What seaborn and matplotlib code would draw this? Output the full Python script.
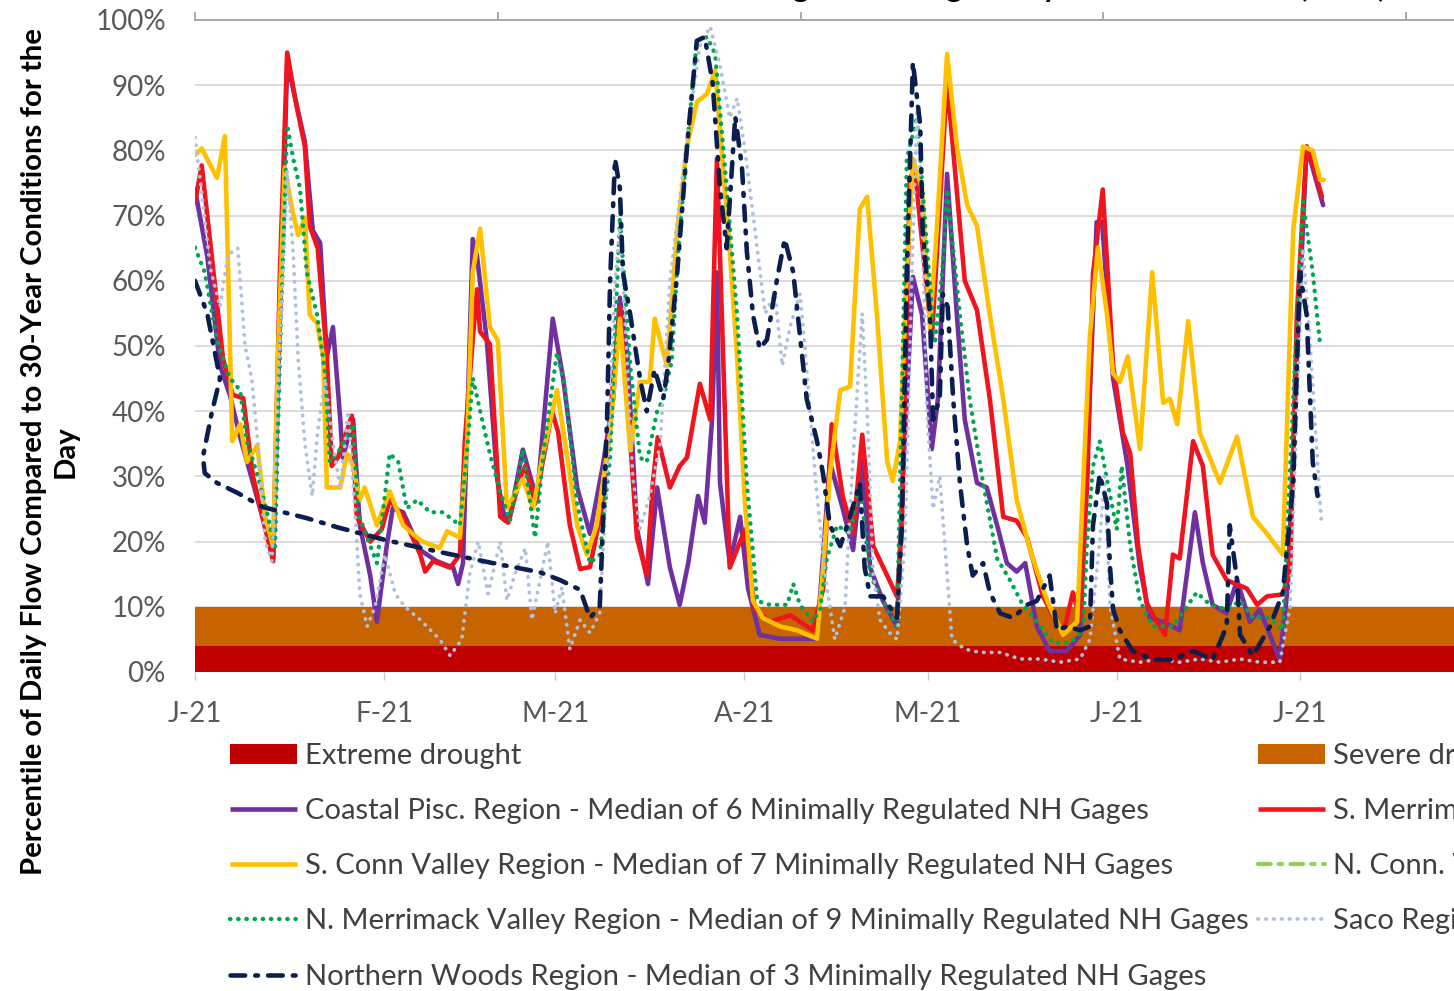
import numpy as np
import matplotlib
matplotlib.use('Agg')
import matplotlib.pyplot as plt
import seaborn as sns
from matplotlib.lines import Line2D
from matplotlib.patches import Patch

sns.set_theme(style='white')
plt.rcParams['font.family'] = ['Lato', 'DejaVu Sans']

# ---- data (day of 2021 counted from Jan 1, percentile %) ----
month_days = [0, 31, 59, 90, 120, 151, 181, 212]
month_labels = ['J-21', 'F-21', 'M-21', 'A-21', 'M-21', 'J-21', 'J-21', 'A-21']
top_ticks = [0, 49.6, 99.2, 148.8, 198.4]

band_days = [0, 230]
extreme_top = [4, 4]
severe_top = [10, 10]

coastal = [(0,74),(2,63.8),(4.1,47),(5.7,42.5),(7.4,36),(9.5,29),(11.8,21.2),(12.8,17.4),(15.1,93.5),(18,81.3),
           (19.3,67.7),(20.5,65.8),(21.6,48.4),(22.6,52.9),(23.8,38.7),(24.2,32.9),(25.9,38.7),(27,22.5),(28.7,14.8),
           (29.8,7.7),(31.4,19.3),(32.4,25.1),(34.1,24.5),(36.9,18.7),(39.6,17),(42.3,16),(43.1,13.5),(43.9,16.7),
           (45.5,66.4),(46.2,63.8),(47.8,50.9),(49.5,29.6),(50.8,23.2),(51.6,23.8),(53.7,34.1),(56,26.4),(58.6,54.2),
           (60.3,45.1),(62.6,28.3),(64.7,21.2),(66.8,31.6),(68.5,41.9),(69.6,57.4),(70.8,49),(72.4,22),(74.2,13.5),
           (75.7,28.3),(77.8,16),(79.4,10.3),(80.8,16.7),(82.4,27),(83.5,22.9),(84.7,38.7),(85.5,61.3),(86,29),
           (87.6,16.7),(89.3,23.8),(90.6,12.8),(92.5,5.7),(95.8,5.1),(98.6,5.1),(101.9,5.1),(104,32.2),(106.1,25.1),
           (107.8,18.7),(109.3,32.2),(110.6,16),(112.7,10.9),(115,7),(115.9,29),(117.6,60.6),(119.1,54.8),(120.7,34.2),
           (121.7,41.9),(123.2,76.4),(124.8,54.8),(126.1,38.7),(128.1,29),(129.7,28.3),(131.4,22.5),(133,16.7),
           (134.6,15.4),(136,16.7),(137.9,7),(140,3.2),(142.8,3.2),(145,5.7),(147.7,69),(148.6,69),(150.4,45),
           (152.7,32),(154.8,16),(156.4,8.3),(158.6,7.7),(161.3,6.4),(163.8,24.5),(165.1,16.7),(166.7,10.3),(169,9),
           (170.7,14.1),(172.8,7.7),(174.4,9.6),(177.7,1.9),(179,12.8),(180.5,48),(182.1,80.6),(184.8,71.6)]

s_merrimack = [(0,72),(1.1,77.7),(4.6,48),(6.2,42.5),(7.9,42),(9.5,30),(11,24),(12.8,17),(13.9,61),(15.1,95),
               (16.4,88),(18,80.6),(18.8,68.4),(20.1,65),(21.6,48.4),(22.4,31.6),(23.4,32.9),(25.7,39.3),(26.5,23.8),
               (28.7,20),(30.6,21.9),(31.9,26.4),(34.1,23.8),(36.9,18),(37.7,15.4),(39,17),(41.8,16),(43.4,18),
               (44.2,35.4),(45.5,51),(46.2,58.7),(46.7,52.2),(48.3,50.3),(50,23.8),(51.3,22.9),(53.2,29.6),(54.1,31.6),
               (55.7,25.8),(58.5,40),(59.5,36.7),(61.4,22.5),(63.1,15.8),(64.7,16.1),(66.8,25.8),(68.5,44.5),(69.6,56),
               (70.8,41.9),(72.4,20.6),(74,14.8),(75,29),(75.8,36),(77.8,28.3),(79.4,31.6),(80.6,32.9),(82.7,44.2),
               (84.4,38.7),(85.5,78.7),(86.3,54.8),(87.6,16),(90.1,21.9),(91.7,9.6),(94.2,7.7),(97.5,8.7),(101.2,6.4),
               (102.9,12.8),(104.3,38),(106.1,27),(107.8,21.2),(109.3,36.4),(111.1,19.3),(115,11.6),(115.8,22.5),
               (117.1,75.5),(117.9,77.4),(120.7,51),(123.2,90.6),(126.1,60),(128.1,55.5),(130.2,41.9),(132.4,23.8),
               (134.6,23.2),(136.3,20.6),(138.9,11.6),(142.2,5.7),(143.8,12.2),(145,8),(146.2,30),(147.1,61),(148.7,74),
               (150.4,47),(152,36.7),(153.2,33.5),(154.5,19.3),(155.9,10.6),(157.2,8.3),(158.9,5.7),(160.2,18),
               (161.3,17.4),(163.5,35.4),(165.1,31.6),(166.7,18),(169,14.1),(172.3,12.8),(174,10.3),(175.6,11.6),
               (178.2,11.9),(179.4,16),(180.5,54.8),(182.1,80.6),(183.1,78),(184.6,72.9)]

s_conn = [(0,79.3),(1.1,80.3),(3.6,75.8),(4.9,82.2),(6.1,35.4),(7.4,38),(8.5,32.2),(10.2,34.8),(11.5,23.8),(12.8,19.3),
          (13.6,48.4),(14.7,77.4),(15.9,71),(16.9,67),(18,69.7),(18.8,54.8),(20,53.5),(21,48.4),(21.6,28.3),(23.8,28.3),
          (24.9,33.5),(25.9,31.6),(27,26.4),(27.8,28.3),(29.8,22.5),(31.9,27.7),(34.1,22.5),(36.4,20.6),(37.3,20),
          (40.1,19),(41.3,21.6),(43.4,20.6),(44.6,35.4),(45.5,61.3),(46.7,68),(48.3,52.9),(49.6,50.9),(51.1,25.1),
          (53.7,29.6),(55.4,25.1),(57,33.5),(59.3,43.2),(60.9,33.5),(62.6,22.5),(64.2,18),(65.8,22.5),(68,36.7),
          (69.6,54.2),(71.3,34),(72.9,44.5),(74.5,44.5),(75.3,54.2),(77.3,47),(79,67.7),(80.6,80.6),(82.2,87.4),
          (83.9,88.7),(85.2,92.3),(86.5,77.4),(87.6,64.5),(88.8,48.4),(90.1,25.8),(91.4,10.9),(93,8.3),(95.8,7),
          (98.6,6.4),(101.9,5.1),(102.9,16),(104,30.3),(105.7,43.2),(107.3,43.8),(108.9,71),(110.1,72.9),(111.7,54.8),
          (113.4,32.2),(114.3,29.3),(115.5,35.4),(116.6,61.3),(117.6,78.7),(119.1,74.2),(120.4,52.9),(121.5,67.7),
          (123.2,94.8),(124.8,80.6),(126.5,71.6),(128.1,68.4),(130.2,54.8),(132.4,41.9),(134.6,26.4),(136.8,18.7),
          (139.6,10.9),(142.2,5.7),(144.5,7.7),(145.5,29),(146.6,51.6),(147.9,65.1),(149.4,54.8),(150.4,45.8),
          (151.5,44.5),(152.8,48.4),(154.8,34.2),(156.8,61.3),(158.6,41.3),(159.7,41.9),(160.9,38),(162.7,53.8),
          (164.6,36.7),(167.9,29),(170.7,36.1),(173.3,23.8),(175.6,21.2),(178.2,18),(179.9,67.7),(181.5,80.6),
          (183.1,80),(184.3,75.5),(184.9,75.5)]

n_merrimack = [(0,65.1),(1.6,61.3),(3.6,50.9),(5.7,45.1),(7.4,43.2),(8.5,35.4),(10.2,30.3),(11.8,24.5),(13.1,18.7),
               (13.9,48.4),(15.1,83.9),(16.1,78.7),(17.2,74.2),(18.3,61.3),(20,54.8),(21.3,45.8),(22.1,32.2),(23.8,34.2),
               (25.9,38),(26.7,24.5),(28.2,20.6),(29.8,16.7),(31.9,33.5),(33.3,32.2),(34.7,25.1),(36.4,26.4),(38.5,24.5),
               (40.6,24.5),(43.4,22.5),(44.7,35.4),(45.5,45.1),(47.2,38),(48.3,33.5),(50,27.7),(51.6,23.2),(53.7,34.1),
               (55.7,20.6),(57.3,35.4),(59.3,49),(60.6,43.8),(62.6,25.8),(64.7,16.7),(66.3,18),(68,32.9),(69.6,69.7),
               (71.3,47),(72.9,32.9),(74,32.2),(75.7,40),(76.7,41.9),(78.1,47.7),(79.1,63.8),(80.6,80.6),(82.2,96.8),
               (83.9,97.4),(85.2,94.8),(87.1,74.2),(88.8,54.8),(90.4,29),(92.1,10.9),(94.2,10.3),(97,10.3),(98,13.5),
               (99.1,10.3),(101.2,7.7),(102.4,9.6),(103.5,17.4),(105.2,22.5),(107.3,21.2),(108.9,29),(110.6,14.8),
               (112.7,10.9),(115,7),(116.6,78.7),(118.3,85.2),(119.9,65.1),(121.2,50.3),(122.4,61.3),(123.2,74),
               (125.3,54.8),(126.9,41.9),(129.1,29),(131.4,17.4),(133.5,14.1),(135.6,10.3),(137.9,7.7),(140.5,4.5),
               (143.3,4.5),(145.5,6.4),(146.1,19.3),(147.1,31.6),(148.2,35.4),(149.5,29),(151,21.9),(151.8,31.6),
               (153.2,19.3),(154.8,10.9),(156.9,7),(160.2,7),(164.1,12.2),(166.3,10.3),(169,9.6),(171.2,10.9),
               (173.3,8.3),(176.1,8.3),(178.2,6.4),(179.9,41.9),(181.5,72.2),(183.1,61.3),(184.3,50.3)]

saco = [(0,82),(1.3,72),(2.5,62),(4.1,56),(5.4,64),(7,65),(8.2,50),(9.3,45),(10.3,35),(11.5,20),(12.6,17),(13.9,50),
        (15.1,77),(16.1,64),(16.9,48),(18,35),(19.2,27),(20.1,37),(21.3,45),(22.6,35),(23.8,28),(25.1,40),(26.2,25),
        (27,12),(28.2,7),(29.5,10),(31.1,18),(32.8,12),(34.4,10),(36.9,8),(40.1,5),(41.8,2.5),(43.7,5),(45,15),
        (46.4,20),(48,12),(50,20),(51.1,11),(52.4,15),(54.1,19),(55.2,8),(56.5,14),(57.8,20),(59,9),(60.1,13),
        (61.4,3.5),(63.1,8),(64.7,6),(66.3,9),(67.5,30),(68.8,60),(69.6,68),(70.4,55),(71.7,30),(72.9,22),(74.5,27),
        (76.2,35),(77.8,60),(80.6,82),(82.7,96),(84.4,99),(86,93),(87.6,85),(88.8,88),(90.1,80),(91.7,68),(93.4,55),
        (95,58),(96.2,47),(97.5,53),(99.1,58),(99.9,50),(101.6,30),(103.2,15),(104.8,5),(106.5,10),(107.3,25),
        (108.6,45),(109.3,55),(110.1,40),(111.1,15),(112.2,8),(113.8,6),(115,5),(116.3,20),(117.4,60),(118.3,87),
        (119.1,70),(119.9,40),(120.9,25),(122,30),(122.8,20),(124,5),(126.1,3.5),(128.6,3),(131.9,3),(135.1,2),
        (138.4,2),(141.7,1.5),(145,2),(146.6,5),(148.2,20),(149,30),(149.9,10),(151.5,2),(154.8,1.5),(158.1,2),
        (161.3,1.5),(164.6,2),(167.9,1.5),(171.2,2),(174.4,1.5),(177.7,1.5),(179.4,10),(180.5,40),(181.5,65),
        (182.7,50),(183.7,35),(184.5,23)]

northern_woods = [(0,60),(2,55),(4.1,45),(2.8,40),(1.3,33),(1.6,30.5),(3.6,29),(6.9,27.5),(11.1,25.3),(18.3,23.6),
                  (23.3,22.2),(31.4,20.2),(40.1,18.4),(48.8,16.7),(56.5,15.3),(59.8,14.1),(63.1,12.6),(64.7,8.3),
                  (66.3,10),(67.5,38.7),(68,60),(68.8,78.7),(69.6,74.2),(70.1,61.3),(71.3,54.8),(72.9,45),(74,40),
                  (75.3,46.4),(76.7,41.9),(77.5,47),(79,61.3),(80.6,80.6),(82.2,96.8),(83.5,97.4),(84.8,90.3),(86,74.2),
                  (87.1,65),(88.5,85.2),(89.6,77.4),(90.4,64.5),(91.4,54.8),(92.5,49.6),(93.7,51),(95.3,60),(96.6,66.4),
                  (98,61.3),(99.1,51.6),(100.2,41.9),(101.9,35.4),(102.9,30.3),(104,22.5),(105.7,19.3),(107.3,23.8),
                  (108.9,29),(109.7,16),(110.6,11.6),(112.7,11.6),(115,8.3),(115.8,22.5),(116.6,61.3),(117.6,93.5),
                  (118.8,83.9),(119.2,67.7),(120.4,54.8),(120.9,38.7),(122,41.9),(122.5,58),(123.3,56),(124.2,41.9),
                  (125.3,29),(126.5,19.3),(127.4,14.8),(129.1,16.7),(130.2,12.2),(131.9,9),(134,8.3),(136.3,10.3),
                  (137.9,10.9),(140,14.8),(141.2,6.4),(142.8,7),(145,6.4),(146.6,7),(147.1,22.5),(148.2,30.3),
                  (149.4,25.8),(149.9,16),(150.4,9.6),(151.5,6.4),(153.6,3.2),(156.9,1.9),(160.2,1.9),(163.5,3.2),
                  (166.7,1.9),(169,7),(169.5,22.5),(170.7,14.1),(171.2,5.7),(173.3,2.5),(176.1,7),(178.2,12.2),
                  (179.9,29),(181,61.3),(182.1,54.8),(183.1,32.2),(183.9,27)]

lbl_extreme = 'Extreme drought'
lbl_severe = 'Severe drought'
lbl_coastal = 'Coastal Pisc. Region - Median of 6 Minimally Regulated NH Gages'
lbl_smerr = 'S. Merrimack Valley Region - Median of 8 Minimally Regulated NH Gages'
lbl_sconn = 'S. Conn Valley Region - Median of 7 Minimally Regulated NH Gages'
lbl_nconn = 'N. Conn. Valley Region - Median of 5 Minimally Regulated NH Gages'
lbl_nmerr = 'N. Merrimack Valley Region - Median of 9 Minimally Regulated NH Gages'
lbl_saco = 'Saco Region - Median of 4 Minimally Regulated NH Gages'
lbl_nwoods = 'Northern Woods Region - Median of 3 Minimally Regulated NH Gages'

# ---- styles ----
c_extreme, c_severe = '#C00000', '#C86400'
sty = {
    'coastal': dict(color='#7030A0', lw=3.3, ls='-'),
    'smerr': dict(color='#F0141E', lw=3.3, ls='-'),
    'sconn': dict(color='#FFC000', lw=3.3, ls='-'),
    'nconn': dict(color='#92D050', lw=3.0, ls=(0, (3, 2, 0.8, 2))),
    'nmerr': dict(color='#00A550', lw=3.1, ls=(0, (0.1, 1.8))),
    'saco': dict(color='#AFC0DC', lw=2.7, ls=(0, (0.1, 2.0))),
    'nwoods': dict(color='#0A1F50', lw=3.3, ls=(0, (3.2, 2.2, 0.6, 2.2))),
}
fs = 21
tick_fs = 20
txt_c = '#404040'

fig = plt.figure(figsize=(14.54, 9.91), dpi=100)
ax = fig.add_axes([195/1454, 1-672/991, 1343/1454, 652/991])

# drought bands
ax.fill_between(band_days, 0, extreme_top, color=c_extreme, lw=0, zorder=1)
ax.fill_between(band_days, extreme_top, severe_top, color=c_severe, lw=0, zorder=1)

series = [(coastal, 'coastal'), (s_merrimack, 'smerr'), (s_conn, 'sconn'),
          (n_merrimack, 'nmerr'), (saco, 'saco'), (northern_woods, 'nwoods')]
for data, key in series:
    d = np.array(data)
    s = sty[key]
    sns.lineplot(x=d[:, 0], y=d[:, 1], ax=ax, sort=False, estimator=None,
                 color=s['color'], lw=s['lw'], linestyle=s['ls'],
                 dash_capstyle='round', solid_capstyle='round', solid_joinstyle='round', zorder=3)

ax.set_xlim(0, 220)
ax.set_ylim(0, 100)
ax.set_yticks(range(0, 101, 10))
ax.set_yticklabels([f'{v}%' for v in range(0, 101, 10)])
ax.set_xticks(month_days)
ax.set_xticklabels(month_labels)
ax.set_xlabel('')
ax.set_ylabel('')
ax.yaxis.grid(True, color='#D9D9D9', lw=1.3)
ax.xaxis.grid(False)
ax.set_axisbelow(True)
for sp in ['left', 'right', 'bottom']:
    ax.spines[sp].set_visible(False)
ax.spines['top'].set_color('#A6A6A6')
ax.spines['top'].set_linewidth(1.3)
ax.tick_params(axis='y', length=0, pad=21, labelsize=tick_fs, labelcolor='#595959')
ax.tick_params(axis='x', bottom=True, length=6, width=1, color='#C8C8C8', pad=15,
               labelsize=tick_fs, labelcolor='#595959')

top = ax.secondary_xaxis('top')
top.set_xticks(top_ticks)
top.set_xticklabels([])
top.tick_params(axis='x', length=6, width=1.3, color='#A6A6A6', direction='out')
top.spines['top'].set_color('#A6A6A6')
top.spines['top'].set_linewidth(1.3)

# y label
fig.text(50/1454, 1-452/991, 'Percentile of Daily Flow Compared to 30-Year Conditions for the\nDay',
         rotation=90, ha='center', va='center', ma='center', fontsize=21.2, fontweight='bold',
         color='black', linespacing=1.25)

# title, almost fully cut off at the top edge (only descenders show)
title = 'Streamflow Drought Tracking - Daily Flow Percentiles (2021)'
title_fs = 22
renderer = fig.canvas.get_renderer()
probe = fig.text(0, 0, 'Streamflow Drou', fontsize=title_fs, fontweight='bold')
w_pre = probe.get_window_extent(renderer).width
probe.remove()
fig.text((793 - w_pre)/1454, 1 + 2.5/991, title, ha='left', va='baseline',
         fontsize=title_fs, fontweight='bold', color='black')

# legends
def line_handle(key):
    s = sty[key]
    return Line2D([], [], color=s['color'], lw=s['lw'], linestyle=s['ls'],
                  dash_capstyle='round', solid_capstyle='butt')

left_h = [Patch(facecolor=c_extreme, edgecolor='none'), line_handle('coastal'),
          line_handle('sconn'), line_handle('nmerr'), line_handle('nwoods')]
left_l = [lbl_extreme, lbl_coastal, lbl_sconn, lbl_nmerr, lbl_nwoods]
right_h = [Patch(facecolor=c_severe, edgecolor='none'), line_handle('smerr'),
           line_handle('nconn'), line_handle('saco')]
right_l = [lbl_severe, lbl_smerr, lbl_nconn, lbl_saco]

leg_kw = dict(loc='upper left', frameon=False, fontsize=fs, labelcolor=txt_c,
              borderpad=0, borderaxespad=0, handlelength=2.3, handletextpad=0.28,
              labelspacing=1.0, handleheight=0.66)
fig.legend(left_h, left_l, bbox_to_anchor=(230/1454, 1-743/991), **leg_kw)
fig.legend(right_h, right_l, bbox_to_anchor=(1258/1454, 1-743/991), **leg_kw)

fig.savefig('out.png', dpi=100)
